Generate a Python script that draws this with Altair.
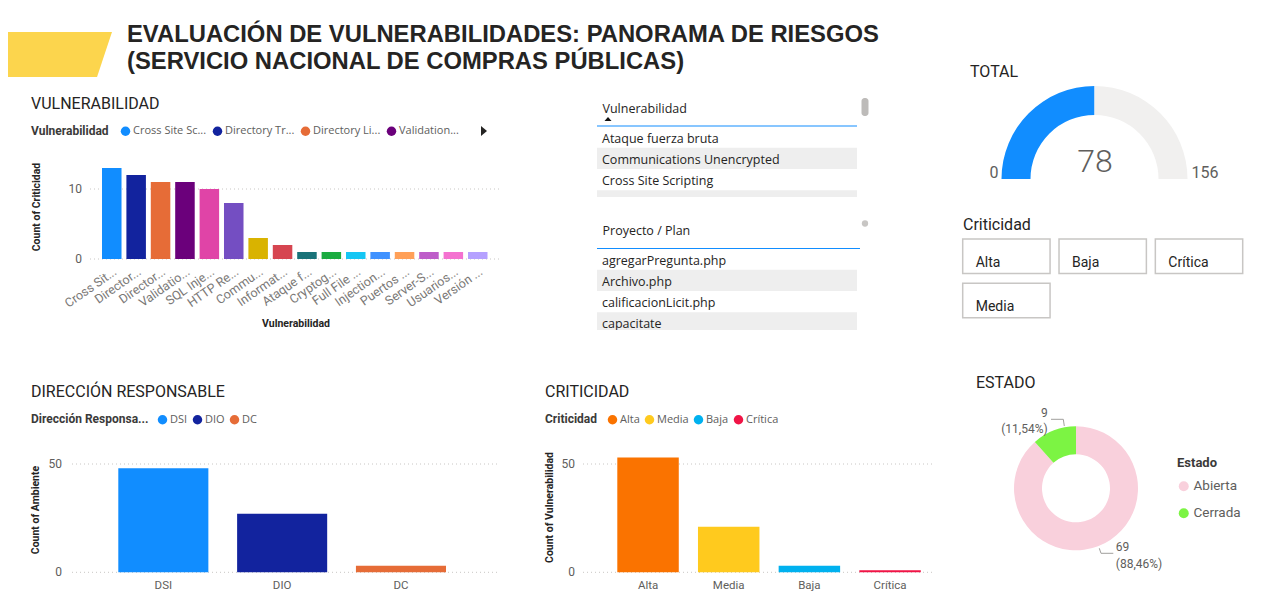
import json
import math
import altair as alt
import pandas as pd

# ---------------- data ----------------
title_line1 = "EVALUACIÓN DE VULNERABILIDADES: PANORAMA DE RIESGOS"
title_line2 = "(SERVICIO NACIONAL DE COMPRAS PÚBLICAS)"

vuln_names = ["Cross Site Scripting", "Directory Traversal", "Directory Listing", "Validation Error",
              "SQL Injection", "HTTP Response Splitting", "Communications Unencrypted",
              "Information Disclosure", "Ataque fuerza bruta", "Cryptographic Failures",
              "Full File Path Disclosure", "Injection Flaws", "Puertos abiertos",
              "Server-Side Request Forgery", "Usuarios por defecto", "Versión desactualizada"]
vuln_counts = [13, 12, 11, 11, 10, 8, 3, 2, 1, 1, 1, 1, 1, 1, 1, 1]
vuln_axis_labels = ["Cross Sit...", "Director...", "Director...", "Validatio...", "SQL Inje...",
                    "HTTP Re...", "Commu...", "Informat...", "Ataque f...", "Cryptog...",
                    "Full File ...", "Injection...", "Puertos ...", "Server-S...", "Usuarios...",
                    "Versión ..."]
vuln_legend_labels = ["Cross Site Sc...", "Directory Tr...", "Directory Li...", "Validation..."]
vuln_colors = ["#118DFF", "#12239E", "#E66C37", "#6B007B", "#E044A7", "#744EC2", "#D9B300",
               "#D64550", "#197278", "#1AAB40", "#15C6F4", "#4092FF", "#FFA058", "#BE5DC9",
               "#F472D0", "#B5A1FF"]
vuln_ticks = [0, 10]

slicer1_title = "Vulnerabilidad"
slicer1_items = ["Ataque fuerza bruta", "Communications Unencrypted", "Cross Site Scripting",
                 "Directory Listing"]
slicer2_title = "Proyecto / Plan"
slicer2_items = ["agregarPregunta.php", "Archivo.php", "calificacionLicit.php", "capacitate"]

gauge_title = "TOTAL"
gauge_value = 78
gauge_min = 0
gauge_max = 156

buttons_title = "Criticidad"
crit_buttons = ["Alta", "Baja", "Crítica", "Media"]

dir_names = ["DSI", "DIO", "DC"]
dir_counts = [48, 27, 3]
dir_colors = ["#118DFF", "#12239E", "#E66C37"]
dir_ticks = [0, 50]

crit_names = ["Alta", "Media", "Baja", "Crítica"]
crit_counts = [53, 21, 3, 1]
crit_colors = ["#FA7300", "#FFCA1E", "#00B1EF", "#F01446"]
crit_ticks = [0, 50]

estado_names = ["Abierta", "Cerrada"]
estado_counts = [69, 9]
estado_colors = ["#F9D0DC", "#7CF443"]

# ---------------- layout helpers ----------------
W, H, M = 1263, 586, 8


def px(v):
    return v - M


TXT = "#252423"
LAB = "#605E5C"
LTITLE = "#3B3A39"
GRID = "#C8C6C4"
one = pd.DataFrame({"k": [0]})


def lookup_expr(keys, vals):
    return "%s[indexof(%s, datum.label)]" % (json.dumps(vals, ensure_ascii=False),
                                             json.dumps(keys, ensure_ascii=False))


def label(text, x, y, size=16, weight="normal", color=TXT, font="Roboto", align="left",
          baseline="alphabetic", angle=0):
    return alt.Chart(one).mark_text(text=text, font=font, fontSize=size, fontWeight=weight,
                                    color=color, align=align, baseline=baseline,
                                    angle=angle).encode(x=alt.value(px(x)), y=alt.value(px(y)))


def hlegend(title, x, y, values=None, labels=None, title_pad=10, col_pad=5):
    kw = dict(orient="none", legendX=px(x), legendY=px(y), direction="horizontal", title=title,
              titleOrient="left", titleFont="Roboto", titleFontSize=12, titleFontWeight="bold",
              titleColor=LTITLE, titlePadding=title_pad, labelFont="Open Sans", labelFontSize=11,
              labelColor=LAB, symbolType="circle", symbolSize=90, symbolStrokeWidth=0,
              labelOffset=2, columnPadding=col_pad, padding=0)
    if values is not None:
        kw["values"] = values
        kw["labelExpr"] = lookup_expr(values, labels)
    return alt.Legend(**kw)


def bar_panel(cat, val, names, counts, colors, ticks, x_range, pad_inner, zero_y, top_y,
              label_right, grid_x0, grid_x1, legend, angle=0, xlabels=None):
    df = pd.DataFrame({cat: names, val: counts})
    tdf = pd.DataFrame({"tick": ticks})
    xs = alt.Scale(domain=names, range=[px(x_range[0]), px(x_range[1])],
                   paddingInner=pad_inner, paddingOuter=0)
    ys = alt.Scale(domain=[ticks[0], ticks[-1]], range=[px(zero_y), px(top_y)], nice=False,
                   zero=False)
    grid = alt.Chart(tdf).mark_rule(color=GRID, strokeDash=[1, 3], strokeWidth=1).encode(
        y=alt.Y("tick:Q", scale=ys, axis=None),
        x=alt.value(px(grid_x0)), x2=alt.value(px(grid_x1)))
    tick_labels = alt.Chart(tdf).mark_text(align="right", baseline="middle", font="Roboto",
                                           fontSize=12, color=LAB).encode(
        y=alt.Y("tick:Q", scale=ys, axis=None), x=alt.value(px(label_right)), text="tick:Q")
    xaxis = dict(orient="bottom", offset=px(zero_y) - H, domain=False, ticks=False, tickSize=0,
                 grid=False, labelFont="Roboto", labelFontSize=11.5, labelColor=LAB,
                 labelOverlap=False, title=None)
    if angle:
        xaxis.update(labelAngle=angle, labelAlign="right", labelBaseline="top", labelPadding=6,
                     labelColor="#7A7876", labelFontSize=12.5)
    else:
        xaxis.update(labelAngle=0, labelAlign="center", labelBaseline="top", labelPadding=7)
    if xlabels is not None:
        xaxis["labelExpr"] = lookup_expr(names, xlabels)
    bars = alt.Chart(df).mark_bar().encode(
        x=alt.X(f"{cat}:N", scale=xs, axis=alt.Axis(**xaxis)),
        y=alt.Y(f"{val}:Q", scale=ys, axis=None),
        color=alt.Color(f"{cat}:N", scale=alt.Scale(domain=names, range=colors), legend=legend))
    return alt.layer(grid, bars, tick_labels)


L = []

# ---------------- header ----------------
L.append(alt.Chart(one).mark_point(shape="M-1,-0.433L1,-0.433L0.712,0.433L-1,0.433Z",
                                   filled=True, fill="#FCD54D", strokeWidth=0, opacity=1,
                                   size=104 ** 2).encode(x=alt.value(px(60)),
                                                         y=alt.value(px(54.5))))
TITLE_FONT = "Liberation Sans"
L.append(label(title_line1, 127, 42, size=23.8, weight="bold", font=TITLE_FONT))
L.append(label(title_line2, 127, 69, size=23.8, weight="bold", font=TITLE_FONT))

# ---------------- VULNERABILIDAD ----------------
L.append(label("VULNERABILIDAD", 31, 108.5))
L.append(bar_panel("Vulnerabilidad", "Count of Criticidad", vuln_names, vuln_counts, vuln_colors,
                   vuln_ticks, (102, 487.5), 0.2, 259, 189, 82, 90, 500,
                   hlegend("Vulnerabilidad", 31, 125.5, vuln_names[:4], vuln_legend_labels, 11),
                   angle=-35, xlabels=vuln_axis_labels))
L.append(alt.Chart(one).mark_point(shape="M-0.6,-1L0.6,0L-0.6,1Z", filled=True, fill=TXT,
                                   strokeWidth=0, opacity=1, size=100).encode(
    x=alt.value(px(484)), y=alt.value(px(131))))
L.append(label("Count of Criticidad", 37, 207, size=10.5, weight="bold", align="center",
               baseline="middle", angle=270))
L.append(label("Vulnerabilidad", 296, 324, size=10.5, weight="bold", align="center",
               baseline="middle"))


# ---------------- slicers ----------------
def slicer(title, items, head_y, line_y, line_x1, row_top, row_bot, mask_y, text_rows, thumb):
    n = len(items)
    ys = alt.Scale(domain=list(range(n)), range=[px(row_top), px(row_bot)], paddingInner=0,
                   paddingOuter=0)
    base = alt.Chart(pd.DataFrame({"item": items})).transform_window(
        idx="row_number()").transform_calculate(r="datum.idx - 1")
    rows = base.mark_rect().encode(
        y=alt.Y("r:O", scale=ys, axis=None), x=alt.value(px(597)), x2=alt.value(px(857)),
        color=alt.condition("datum.r % 2 == 1", alt.value("#EEEEEE"), alt.value("#FFFFFF")))
    txt = base.transform_filter(f"datum.r < {text_rows}").mark_text(
        align="left", baseline="middle", dy=1.5, font="Open Sans", fontSize=12.5,
        color=TXT).encode(
        y=alt.Y("r:O", scale=ys, axis=None), x=alt.value(px(602)), text="item:N")
    out = [alt.layer(rows, txt)]
    out.append(alt.Chart(one).mark_rect(color="#FFFFFF").encode(
        x=alt.value(px(595)), x2=alt.value(px(862)), y=alt.value(px(mask_y)),
        y2=alt.value(px(mask_y + 18))))
    out.append(label(title, 602.5, head_y, size=12.5, font="Open Sans", baseline="middle"))
    out.append(alt.Chart(one).mark_rule(color="#118DFF", strokeWidth=1).encode(
        x=alt.value(px(597)), x2=alt.value(px(line_x1)), y=alt.value(px(line_y))))
    out.append(thumb)
    return out


thumb1 = alt.Chart(one).mark_rect(color="#BDBBB9", cornerRadius=3).encode(
    x=alt.value(px(861.5)), x2=alt.value(px(868.5)), y=alt.value(px(98)), y2=alt.value(px(116)))
thumb2 = alt.Chart(one).mark_point(shape="circle", filled=True, fill="#C8C6C4", strokeWidth=0,
                                   opacity=1, size=40).encode(x=alt.value(px(865)),
                                                              y=alt.value(px(223.5)))
L += slicer(slicer1_title, slicer1_items, 109, 126, 857, 126.5, 211.5, 197, 3, thumb1)
L.append(alt.Chart(one).mark_point(shape="M-1,0.55L1,0.55L0,-0.55Z", filled=True, fill="#111111",
                                   strokeWidth=0, opacity=1, size=49).encode(
    x=alt.value(px(608)), y=alt.value(px(119))))
L += slicer(slicer2_title, slicer2_items, 230.5, 248.5, 860, 248.5, 333.5, 330, 4, thumb2)

# ---------------- gauge ----------------
L.append(label(gauge_title, 970, 76.7))
g_df = pd.DataFrame({"seg": ["valor", "resto"], "start": [gauge_min, gauge_value],
                     "end": [gauge_value, gauge_max]})
g_theta = alt.Scale(domain=[gauge_min, gauge_max], range=[-math.pi / 2, math.pi / 2])
L.append(alt.Chart(g_df).mark_arc(radius=93, radius2=64).encode(
    theta=alt.Theta("start:Q", scale=g_theta, stack=None), theta2="end:Q",
    color=alt.Color("seg:N", scale=alt.Scale(domain=["valor", "resto"],
                                             range=["#118DFF", "#F1F0EF"]), legend=None),
    x=alt.value(px(1094.5)), y=alt.value(px(179))))
L.append(label(str(gauge_value), 1095, 161.5, size=32, weight=300, color=LAB, align="center",
               baseline="middle"))
L.append(label(str(gauge_min), 994, 172.5, size=16, color=LAB, align="center",
               baseline="middle"))
L.append(label(str(gauge_max), 1205, 172.5, size=16, color=LAB, align="center",
               baseline="middle"))

# ---------------- criticidad buttons ----------------
L.append(label(buttons_title, 963, 230))
b_base = alt.Chart(pd.DataFrame({"Criticidad": crit_buttons})).transform_window(
    i="row_number()").transform_calculate(col="(datum.i - 1) % 3",
                                          row="floor((datum.i - 1) / 3)")
b_x = alt.Scale(domain=[0, 1, 2], range=[px(962.7), px(1242.7)], paddingInner=0.093,
                paddingOuter=0)
b_y = alt.Scale(domain=[0, 1], range=[px(239), px(317.7)], paddingInner=0.22, paddingOuter=0)
L.append(alt.layer(
    b_base.mark_rect(fill="#FFFFFF", stroke="#C8C6C4", strokeWidth=1.5).encode(
        x=alt.X("col:O", scale=b_x, axis=None), y=alt.Y("row:O", scale=b_y, axis=None)),
    b_base.mark_text(align="left", baseline="middle", dx=13, font="Roboto", fontSize=14,
                     color=TXT).encode(
        x=alt.X("col:O", scale=b_x, axis=None, bandPosition=0),
        y=alt.Y("row:O", scale=b_y, axis=None, bandPosition=0.7),
        text="Criticidad:N")))

# ---------------- DIRECCIÓN RESPONSABLE ----------------
L.append(label("DIRECCIÓN RESPONSABLE", 31, 396.7))
L.append(bar_panel("Dirección Responsable", "Count of Ambiente", dir_names, dir_counts,
                   dir_colors, dir_ticks, (118.3, 446), 0.242, 572.3, 464, 62, 72, 500,
                   hlegend("Dirección Responsa...", 31, 414, title_pad=8, col_pad=4)))
L.append(label("Count of Ambiente", 36, 510, size=10.5, weight="bold", align="center",
               baseline="middle", angle=270))

# ---------------- CRITICIDAD ----------------
L.append(label("CRITICIDAD", 545, 396.7))
L.append(bar_panel("Criticidad", "Count of Vulnerabilidad", crit_names, crit_counts,
                   crit_colors, crit_ticks, (617.3, 920.8), 0.238, 572.3, 464, 575, 583, 935,
                   hlegend("Criticidad", 545, 414, title_pad=9, col_pad=4)))
L.append(label("Count of Vulnerabilidad", 549.5, 507.5, size=10.5, weight="bold",
               align="center", baseline="middle", angle=270))

# ---------------- ESTADO ----------------
L.append(label("ESTADO", 976, 388.3))
CX, CY = 1076, 488.3
e_df = pd.DataFrame({"Estado": estado_names, "count": estado_counts})
e_base = alt.Chart(e_df).transform_window(idx="row_number()")
e_arc = e_base.mark_arc(radius=62, radius2=34).encode(
    theta=alt.Theta("count:Q", stack=True),
    order=alt.Order("idx:Q"),
    color=alt.Color("Estado:N", scale=alt.Scale(domain=estado_names, range=estado_colors),
                    legend=alt.Legend(orient="none", legendX=px(1177), legendY=px(456.5),
                                      direction="vertical", title="Estado", titleFont="Roboto",
                                      titleFontSize=13, titleFontWeight="bold",
                                      titleColor=LTITLE, titlePadding=10, labelFont="Roboto",
                                      labelFontSize=13.5, labelColor=LAB, symbolType="circle",
                                      symbolSize=100, symbolStrokeWidth=0, labelOffset=3,
                                      rowPadding=12, padding=0)),
    x=alt.value(px(CX)), y=alt.value(px(CY)))
lab_base = e_base.transform_window(
    cum="sum(count)", sort=[alt.SortField("idx")], frame=[None, 0]).transform_joinaggregate(
    total="sum(count)").transform_calculate(
    mid="datum.cum - datum.count / 2",
    txt="datum.count + '\\n(' + replace(format(datum.count / datum.total * 100, '.2f'), '.', ',') + '%)'")


def donut_label(name, align, dx, dy):
    return lab_base.transform_filter(f"datum.Estado == '{name}'").mark_text(
        radius=80, align=align, baseline="middle", lineBreak="\n", lineHeight=16.5, dx=dx, dy=dy,
        font="Roboto", fontSize=12, color=LAB).encode(
        theta=alt.Theta("mid:Q", stack=None), text="txt:N",
        x=alt.value(px(CX)), y=alt.value(px(CY)))


L.append(alt.layer(e_arc, donut_label("Cerrada", "right", 0, -0.7),
                   donut_label("Abierta", "left", 11.5, -16)))
for (x1, y1, x2, y2) in [(1051, 419.3, 1063.3, 419.3), (1063.3, 419.3, 1064.3, 426),
                         (1099.3, 548.3, 1101, 553.3), (1101, 553.3, 1113.3, 553.3)]:
    L.append(alt.Chart(one).mark_rule(color="#A19F9D", strokeWidth=1).encode(
        x=alt.value(px(x1)), y=alt.value(px(y1)), x2=alt.value(px(x2)), y2=alt.value(px(y2))))

chart = alt.layer(*L).resolve_scale(
    x="independent", y="independent", color="independent", theta="independent").resolve_axis(
    x="independent", y="independent").resolve_legend(color="independent").properties(
    width=W, height=H, autosize=alt.AutoSizeParams(type="none"), padding=0).configure_view(
    stroke=None)

chart.save("out.html", embed_options={"renderer": "svg", "actions": False})
